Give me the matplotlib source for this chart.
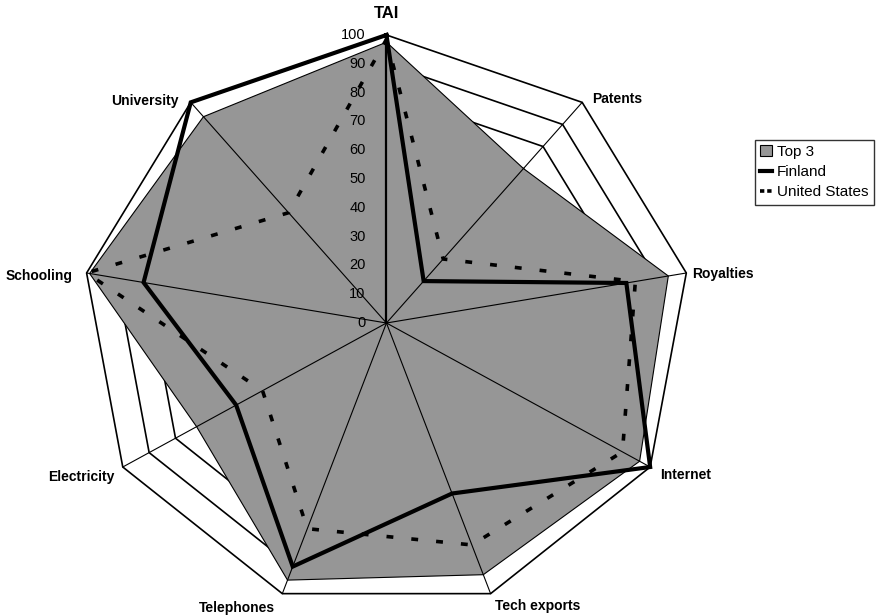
import numpy as np
import matplotlib
matplotlib.use("Agg")
import matplotlib.pyplot as plt
from matplotlib.patches import Patch
from matplotlib.lines import Line2D

categories = ['TAI', 'Patents', 'Royalties', 'Internet', 'Tech exports',
              'Telephones', 'Electricity', 'Schooling', 'University']
top3 = [97.5, 70, 94, 96, 93, 95, 72, 99, 93.5]
finland = [100, 19, 80, 100, 63, 90, 57, 81, 100]
united_states = [98.5, 29, 83, 89.5, 82, 76, 47, 100, 50]
r_ticks = [0, 10, 20, 30, 40, 50, 60, 70, 80, 90, 100]

plt.rcParams['font.family'] = ['Liberation Sans', 'DejaVu Sans']

fig = plt.figure(figsize=(8.92, 6.16), dpi=100)
ax = fig.add_axes([0.0919, 0.0081, 0.6827, 0.9351], projection='polar')
ax.set_aspect('auto')
ax.set_theta_zero_location('N')
ax.set_theta_direction(-1)
ax.set_ylim(0, 100)
ax.set_xticks([])
ax.set_yticks([])
ax.grid(False)
ax.spines['polar'].set_visible(False)
ax.set_facecolor('none')

n = len(categories)
theta = np.arange(n) * 2 * np.pi / n
theta_c = np.append(theta, theta[0])

def close(v):
    return np.append(v, v[0])

# polygon gridlines
for lv in r_ticks[1:]:
    ax.plot(theta_c, [lv] * (n + 1), color='black', lw=1.2, zorder=1, clip_on=False)

# Top 3 filled area
ax.fill(theta_c, close(top3), facecolor='#969696', edgecolor='black', lw=0.8, zorder=2)

# spokes
for i, t in enumerate(theta):
    ax.plot([t, t], [0, 100], color='black', lw=1.6 if i == 0 else 0.8, zorder=3, clip_on=False)

# series
ax.plot(theta_c, close(united_states), color='black', lw=2.6,
        linestyle=(0, (1.9, 5.0)), zorder=4, clip_on=False)
ax.plot(theta_c, close(finland), color='black', lw=3.0, zorder=5, clip_on=False,
        solid_joinstyle='miter')

# radial tick labels
for v in r_ticks:
    ax.annotate(str(v), xy=(0, v), xytext=(-15, 0), textcoords='offset points',
                ha='right', va='center', fontsize=10.5, zorder=6)

# category labels (offsets in points)
label_cfg = {
    'TAI': ((0, 12), 'center', 'baseline', 12),
    'Patents': ((7, -0.7), 'left', 'baseline', 10),
    'Royalties': ((4, -3.5), 'left', 'baseline', 10),
    'Internet': ((7, -8.5), 'left', 'baseline', 10),
    'Tech exports': ((3.5, -11.5), 'left', 'baseline', 10),
    'Telephones': ((-5.5, -13.5), 'right', 'baseline', 10),
    'Electricity': ((-6, -10), 'right', 'baseline', 10),
    'Schooling': ((-10, -5), 'right', 'baseline', 10),
    'University': ((-8.5, -2), 'right', 'baseline', 10),
}
for t, c in zip(theta, categories):
    off, ha, va, fs = label_cfg[c]
    ax.annotate(c, xy=(t, 100), xytext=off, textcoords='offset points',
                ha=ha, va=va, fontsize=fs, fontweight='bold',
                annotation_clip=False)

handles = [Patch(facecolor='#969696', edgecolor='black', lw=0.8),
           Line2D([], [], color='black', lw=3.0),
           Line2D([], [], color='black', lw=2.6, linestyle=(0, (1.2, 0.8)))]
leg = fig.legend(handles, ['Top 3', 'Finland', 'United States'],
                 loc='upper left', bbox_to_anchor=(0.846, 0.773),
                 frameon=True, fancybox=False, edgecolor='black',
                 fontsize=11, handlelength=0.8, handletextpad=0.3,
                 labelspacing=0.4, borderpad=0.35, borderaxespad=0)
leg.get_frame().set_linewidth(1.0)

fig.savefig('out.png', dpi=100, facecolor='white')
